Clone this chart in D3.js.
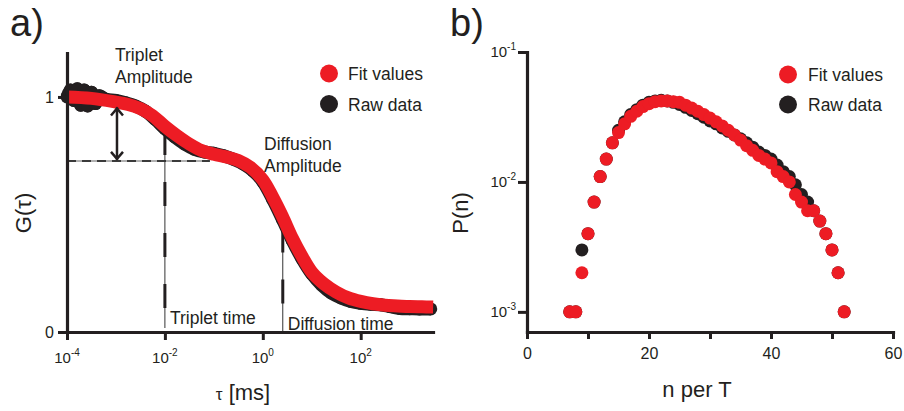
<!DOCTYPE html>
<html><head><meta charset="utf-8">
<script src="https://cdn.jsdelivr.net/npm/d3@7"></script>
<style>
body{margin:0;background:#fff;}
text{font-family:"Liberation Sans",Arial,sans-serif;fill:#231f20;}
</style></head>
<body><svg id="c" width="904" height="411"></svg>
<script>
// ---------- Panel a data ----------
const fitTau = [1e-4,3.16e-4,1e-3,1.78e-3,3.16e-3,5.62e-3,0.01,0.0178,0.0316,0.0562,0.1,0.178,0.316,0.562,1,1.585,2.512,3.981,6.31,10,17.78,31.62,56.23,100,177.8,316.2,562.3,1000,1778,3020];
const fitG   = [1.0,0.994,0.978,0.968,0.95,0.92,0.875,0.835,0.80,0.772,0.756,0.745,0.73,0.70,0.647,0.575,0.492,0.40,0.322,0.255,0.205,0.17,0.145,0.13,0.12,0.114,0.111,0.108,0.107,0.106];
const rawTau = [1e-4,1.17e-4,1.38e-4,1.62e-4,1.91e-4,2.24e-4,2.63e-4,3.16e-4,3.8e-4,4.57e-4,6.31e-4,1e-3,1.58e-3,2.51e-3,3.98e-3,6.31e-3,0.01,0.0158,0.0251,0.0398,0.0631,0.1,0.158,0.251,0.398,0.631,1,1.585,2.51,3.98,6.31,10,15.85,25.1,39.8,63.1,100,158.5,251,398,631,1000,1585,2700];
const rawG   = [1.0,1.03,0.985,1.035,0.965,1.03,0.962,1.02,0.972,1.005,0.99,0.985,0.975,0.962,0.94,0.905,0.865,0.83,0.80,0.778,0.766,0.76,0.75,0.735,0.715,0.685,0.64,0.565,0.48,0.39,0.312,0.247,0.2,0.166,0.145,0.13,0.122,0.118,0.116,0.108,0.1,0.099,0.098,0.098];
const xTicksA = [1e-4,1e-2,1,1e2];
const xTickExpA = ["-4","-2","0","2"];
const yTicksA = [0,1];
const markerTau = [0.01, 2.56];
const markerTop = [0.855, 0.44];
const markerBottom = [0.017, 0];
const markerLabel = ["Triplet time","Diffusion time"];
const diffAmpLevel = 0.728;
const diffAmpEndTau = 0.083;
const arrowTau = 1.05e-3;
const arrowTop = 0.955;

// ---------- Panel b data ----------
const nVals = [7,8,9,10,11,12,13,14,15,16,17,18,19,20,21,22,23,24,25,26,27,28,29,30,31,32,33,34,35,36,37,38,39,40,41,42,43,44,45,46,47,48,49,50,51,52];
const fitP = [.001,.001,.002,.004,.007,.011,.015,.020,.024,.028,.032,.035,.038,.040,.0415,.042,.042,.0415,.041,.039,.037,.035,.033,.031,.029,.027,.025,.023,.021,.019,.0175,.016,.015,.014,.012,.011,.010,.008,.007,.006,.006,.005,.004,.003,.002,.001];
const rawP = [.001,.001,.003,.004,.007,.011,.015,.020,.025,.029,.033,.036,.039,.041,.042,.0425,.042,.041,.0395,.0375,.0355,.0335,.0315,.0295,.028,.026,.0245,.023,.0215,.020,.0185,.017,.016,.015,.0135,.012,.011,.0095,.008,.007,.006,.005,.004,.003,.002,.001];
const xTicksB = [0,10,20,30,40,50,60];
const xLabelsB = [0,20,40,60];
const yTicksB = [0.1,0.01,0.001];
const yTickExpB = ["-1","-2","-3"];
const legendLabels = ["Fit values","Raw data"];

const RED = "#ed1c24", BLACK = "#231f20";
const svg = d3.select("#c");

// ---------- Panel a ----------
const xA = d3.scaleLog().domain([1e-4, 3000]).range([67, 433]);
const yA = d3.scaleLinear().domain([0, 1.187]).range([332, 53]);
const gA = svg.append("g");

// dashed horizontal (diffusion amplitude level)
gA.append("line").attr("x1", xA(1e-4)).attr("x2", xA(diffAmpEndTau))
  .attr("y1", yA(diffAmpLevel)).attr("y2", yA(diffAmpLevel))
  .attr("stroke", "#b0b0b0").attr("stroke-width", 2);
gA.append("line").attr("x1", xA(1e-4)).attr("x2", xA(diffAmpEndTau))
  .attr("y1", yA(diffAmpLevel)).attr("y2", yA(diffAmpLevel))
  .attr("stroke", "#3a3a3a").attr("stroke-width", 2).attr("stroke-dasharray", "9,6");

// markers
markerTau.forEach((t, i) => {
  gA.append("line").attr("x1", xA(t)).attr("x2", xA(t))
    .attr("y1", yA(markerTop[i])).attr("y2", yA(markerBottom[i]))
    .attr("stroke", "#333").attr("stroke-width", 1);
  gA.append("line").attr("x1", xA(t)).attr("x2", xA(t))
    .attr("y1", yA(markerTop[i])).attr("y2", yA(markerBottom[i]) - 20)
    .attr("stroke", BLACK).attr("stroke-width", 3).attr("stroke-dasharray", "24,27");
});

// raw data
const lineA = d3.line().x(d => xA(d[0])).y(d => yA(d[1])).curve(d3.curveCatmullRom.alpha(0.5));
const rawA = rawTau.map((t, i) => [t, rawG[i]]);
gA.append("path").datum(rawA).attr("d", lineA).attr("fill", "none")
  .attr("stroke", BLACK).attr("stroke-width", 13).attr("stroke-linejoin", "round");
gA.selectAll("circle.raw").data(rawA).enter().append("circle")
  .attr("cx", d => xA(d[0])).attr("cy", d => yA(d[1])).attr("r", 6.5).attr("fill", BLACK);

// fit
const fitA = fitTau.map((t, i) => [t, fitG[i]]);
gA.append("path").datum(fitA).attr("d", lineA)
  .attr("fill", "none").attr("stroke", RED).attr("stroke-width", 13);

// arrow
const ax = xA(arrowTau), ay1 = yA(arrowTop), ay2 = yA(diffAmpLevel) - 1;
gA.append("line").attr("x1", ax).attr("x2", ax).attr("y1", ay1).attr("y2", ay2)
  .attr("stroke", BLACK).attr("stroke-width", 2.5);
gA.append("path").attr("d", `M${ax-6},${ay1+8}L${ax},${ay1+1}L${ax+6},${ay1+8}`)
  .attr("fill", "none").attr("stroke", BLACK).attr("stroke-width", 2.5);
gA.append("path").attr("d", `M${ax-6},${ay2-8}L${ax},${ay2-1}L${ax+6},${ay2-8}`)
  .attr("fill", "none").attr("stroke", BLACK).attr("stroke-width", 2.5);

// axes
const axA = gA.append("g").attr("transform", "translate(0,332)")
  .call(d3.axisBottom(xA).tickValues(xTicksA).tickSize(8).tickSizeOuter(0).tickFormat(""));
const ayA = gA.append("g").attr("transform", "translate(67,0)")
  .call(d3.axisLeft(yA).tickValues(yTicksA).tickSize(9).tickSizeOuter(0).tickFormat(d3.format("d")));
[axA, ayA].forEach(a => {
  a.select(".domain").attr("stroke", BLACK).attr("stroke-width", 3.2).attr("stroke-linecap", "square");
  a.selectAll(".tick line").attr("stroke", BLACK).attr("stroke-width", 3);
});
ayA.selectAll(".tick text").attr("font-size", 16).attr("font-family", "Liberation Sans").attr("fill", BLACK).attr("x", -13);
xTicksA.forEach((t, i) => {
  const tx = gA.append("text").attr("x", xA(t)).attr("y", 363).attr("text-anchor", "middle").attr("font-size", 15);
  tx.append("tspan").text("10");
  tx.append("tspan").attr("dy", -7).attr("font-size", 10).text(xTickExpA[i]);
});

// axis titles
gA.append("text").attr("transform", "translate(31,213) rotate(-90)").attr("text-anchor", "middle")
  .attr("font-size", 22).attr("font-family", "Noto Sans").text("G(τ)");
const tA = gA.append("text").attr("x", 243).attr("y", 400).attr("text-anchor", "middle")
  .attr("font-size", 22).attr("font-family", "Noto Sans");
tA.append("tspan").attr("font-size", 17).text("τ");
tA.append("tspan").text(" [ms]");

// annotations
const ann = [["Triplet",115,61],["Amplitude",115,83],["Diffusion",264,150],["Amplitude",264,172]];
ann.forEach(a => gA.append("text").attr("x", a[1]).attr("y", a[2]).attr("font-size", 17.5).text(a[0]));
gA.append("text").attr("x", xA(markerTau[0]) + 5).attr("y", 324).attr("font-size", 17.5).text(markerLabel[0]);
gA.append("text").attr("x", xA(markerTau[1]) + 5).attr("y", 330).attr("font-size", 17.5).text(markerLabel[1]);

// legend a
[RED, BLACK].forEach((c, i) => {
  gA.append("circle").attr("cx", 329).attr("cy", 73.5 + i * 30.5).attr("r", 9).attr("fill", c);
  gA.append("text").attr("x", 348).attr("y", 80 + i * 30.5).attr("font-size", 17.5).text(legendLabels[i]);
});
svg.append("text").attr("x", 10).attr("y", 36).attr("font-size", 38).text("a)");

// ---------- Panel b ----------
const xB = d3.scaleLinear().domain([0, 60]).range([527, 893]);
const yB = d3.scaleLog().domain([0.0007, 0.1]).range([332, 52]);
const gB = svg.append("g");

gB.selectAll("circle.raw").data(nVals).enter().append("circle")
  .attr("cx", d => xB(d)).attr("cy", (d, i) => yB(rawP[i])).attr("r", 6.5).attr("fill", BLACK);
gB.selectAll("circle.fit").data(nVals).enter().append("circle")
  .attr("cx", d => xB(d)).attr("cy", (d, i) => yB(fitP[i])).attr("r", 6.5).attr("fill", RED);

const axB = gB.append("g").attr("transform", "translate(0,332)")
  .call(d3.axisBottom(xB).tickValues(xTicksB).tickSize(7).tickSizeOuter(0)
    .tickFormat(d => xLabelsB.includes(d) ? d : ""));
const ayB = gB.append("g").attr("transform", "translate(527,0)")
  .call(d3.axisLeft(yB).tickValues(yTicksB).tickSize(9).tickSizeOuter(0).tickFormat(""));
[axB, ayB].forEach(a => {
  a.select(".domain").attr("stroke", BLACK).attr("stroke-width", 3.2).attr("stroke-linecap", "square");
  a.selectAll(".tick line").attr("stroke", BLACK).attr("stroke-width", 3);
});
axB.selectAll(".tick text").attr("font-size", 16).attr("font-family", "Liberation Sans").attr("fill", BLACK).attr("dy", "1.05em");
yTicksB.forEach((t, i) => {
  const tx = gB.append("text").attr("x", 516).attr("y", yB(t) + 5).attr("text-anchor", "end").attr("font-size", 15);
  tx.append("tspan").text("10");
  tx.append("tspan").attr("dy", -7).attr("font-size", 10).text(yTickExpB[i]);
});
gB.append("text").attr("transform", "translate(468,213) rotate(-90)").attr("text-anchor", "middle")
  .attr("font-size", 22).attr("font-family", "Noto Sans").text("P(n)");
gB.append("text").attr("x", 697).attr("y", 397).attr("text-anchor", "middle")
  .attr("font-size", 22).attr("font-family", "Noto Sans").text("n per T");

[RED, BLACK].forEach((c, i) => {
  gB.append("circle").attr("cx", 788).attr("cy", 74.5 + i * 30).attr("r", 9).attr("fill", c);
  gB.append("text").attr("x", 808).attr("y", 81 + i * 30).attr("font-size", 17.5).text(legendLabels[i]);
});
svg.append("text").attr("x", 450).attr("y", 36).attr("font-size", 38).text("b)");
</script></body></html>
